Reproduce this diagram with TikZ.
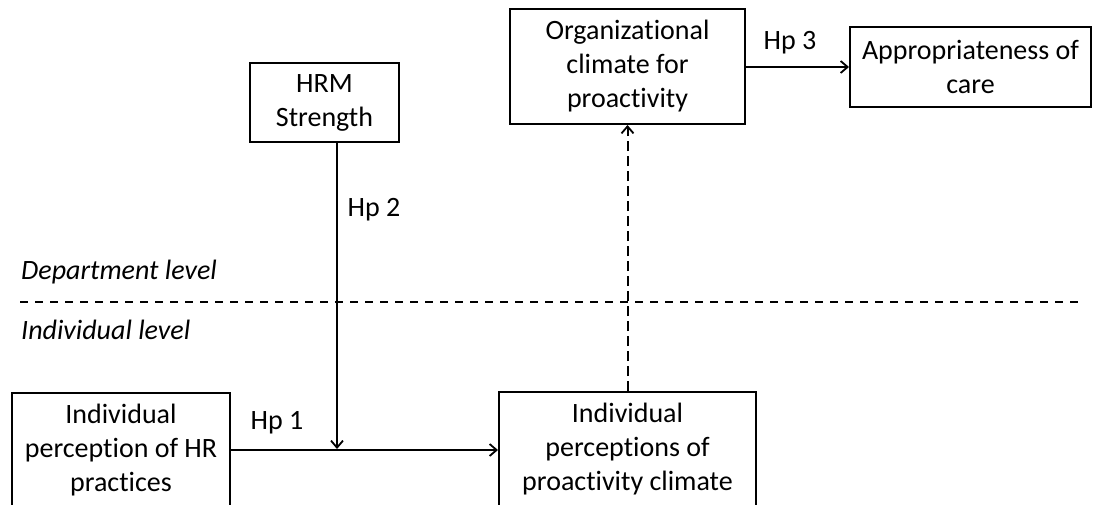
\documentclass[tikz,border=0pt]{standalone}
\usepackage{fontspec}
\setmainfont{Carlito}[Ligatures=NoCommon]
\usetikzlibrary{arrows.meta}
\begin{document}
\begin{tikzpicture}[x=1pt,y=-1pt,
  box/.style={draw=black,line width=2pt,fill=white,align=center,inner sep=0pt,
    font=\fontsize{28}{34}\selectfont},
  lbl/.style={font=\fontsize{28}{34}\selectfont,inner sep=0pt},
  lvl/.style={font=\fontsize{28}{34}\selectfont\itshape,inner sep=0pt,anchor=west},
  conn/.style={line width=2pt,-{Straight Barb[length=7pt,width=12pt,line width=1.8pt]}},
  dconn/.style={conn,dash pattern=on 10pt off 5pt},
  sep/.style={line width=2pt,dash pattern=on 8pt off 7pt}]
\useasboundingbox (0,0) rectangle (1093,504);
\fill[white] (0,0) rectangle (1093,504);
% level separator
\coordinate (sepL) at (20,302);
\coordinate (sepR) at (1082,302);
\draw[sep] (sepL) -- (sepR);
\node[lvl] (dep) at (21,272) {Department level};
\node[lvl] (ind) at (21,330) {Individual level};
% boxes
\node[box,minimum width=149pt,minimum height=79pt] (hrm) at (324.5,102.5) {HRM\\Strength};
\node[box,minimum width=235pt,minimum height=115pt] (org) at (627.5,66.5) {Organizational\\climate for\\proactivity};
\node[box,minimum width=241pt,minimum height=80pt] (app) at (970.5,67) {Appropriateness of\\care};
\node[box,minimum width=218pt,minimum height=114pt] (ihr) at (121,450) {Individual\\perception of HR\\practices};
\node[box,minimum width=257pt,minimum height=114pt] (icl) at (627.5,449) {Individual\\perceptions of\\proactivity climate};
% connectors
\coordinate (mod) at (337,449);
\draw[conn] (ihr.east) -- (ihr.east -| icl.west);
\draw[conn] (hrm.south -| mod) -- (mod);
\draw[dconn] (icl.north) -- (org.south);
\draw[conn] (org.east |- app.west) -- (app.west);
% labels
\node[lbl] (hp1) at (277,423) {Hp 1};
\node[lbl] (hp2) at (374,210) {Hp 2};
\node[lbl] (hp3) at (790,43) {Hp 3};
\end{tikzpicture}
\end{document}
